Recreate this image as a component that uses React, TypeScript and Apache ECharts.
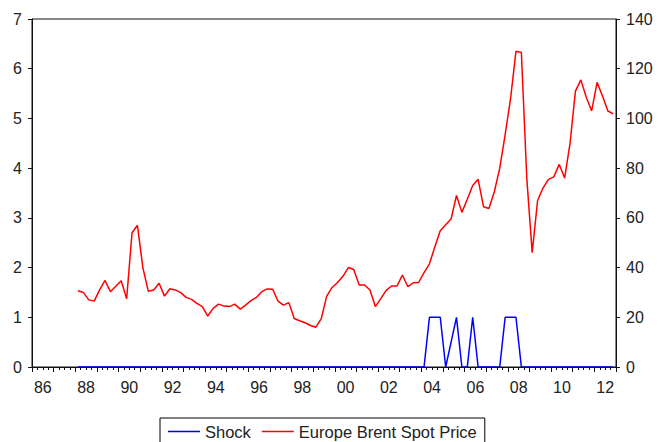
import React, { useEffect, useRef } from 'react';
import * as echarts from 'echarts';

// Quarterly data, 1988Q1 .. 2012Q4
const START_YEAR = 1988;
const AXIS_START_YEAR = 1986;
const AXIS_END_YEAR = 2013;

const brentPrice: number[] = [
  30.7, 30.0, 27.0, 26.5, // 1988
  31.0, 34.8, 30.3, 32.5, // 1989
  34.7, 27.4, 54.0, 57.0, // 1990
  40.0, 30.5, 31.0, 33.7, // 1991
  28.5, 31.5, 31.0, 29.9, // 1992
  28.0, 27.2, 25.6, 24.3, // 1993
  20.5, 23.6, 25.3, 24.5, // 1994
  24.3, 25.3, 23.3, 24.9, // 1995
  26.7, 28.0, 30.3, 31.4, // 1996
  31.3, 26.5, 24.9, 25.9, // 1997
  19.5, 18.6, 17.8, 16.7, // 1998
  16.0, 19.5, 28.5, 32.0, // 1999
  34.0, 36.5, 40.0, 39.2, // 2000
  33.0, 33.0, 31.0, 24.3, // 2001
  27.5, 30.8, 32.6, 32.6, // 2002
  37.0, 32.3, 33.9, 34.0, // 2003
  38.0, 41.5, 48.4, 54.8, // 2004
  57.2, 59.5, 69.0, 62.2, // 2005
  67.5, 73.0, 75.5, 64.5, // 2006
  63.8, 70.5, 80.0, 93.5, // 2007
  108.0, 127.0, 126.5, 76.0, // 2008
  46.0, 67.0, 72.0, 75.5, // 2009
  76.5, 81.5, 76.0, 90.0, // 2010
  111.0, 115.5, 108.5, 103.0, // 2011
  114.5, 109.0, 103.0, 101.8, // 2012
];

const shock: number[] = [
  0, 0, 0, 0, // 1988
  0, 0, 0, 0, // 1989
  0, 0, 0, 0, // 1990
  0, 0, 0, 0, // 1991
  0, 0, 0, 0, // 1992
  0, 0, 0, 0, // 1993
  0, 0, 0, 0, // 1994
  0, 0, 0, 0, // 1995
  0, 0, 0, 0, // 1996
  0, 0, 0, 0, // 1997
  0, 0, 0, 0, // 1998
  0, 0, 0, 0, // 1999
  0, 0, 0, 0, // 2000
  0, 0, 0, 0, // 2001
  0, 0, 0, 0, // 2002
  0, 0, 0, 0, // 2003
  0, 1, 1, 1, // 2004
  0, 0.5, 1, 0, // 2005
  0, 1, 0, 0, // 2006
  0, 0, 0, 1, // 2007
  1, 1, 0, 0, // 2008
  0, 0, 0, 0, // 2009
  0, 0, 0, 0, // 2010
  0, 0, 0, 0, // 2011
  0, 0, 0, 0, // 2012
];

const seriesNames = ['Shock', 'Europe Brent Spot Price'];

const quarterTime = (i: number) => START_YEAR + (i + 0.5) / 4;

const FONT = '"Liberation Sans", Arial, Helvetica, sans-serif';
const TEXT_COLOR = '#222';
const AXIS_COLOR = '#111';

export default function App() {
  const ref = useRef<HTMLDivElement>(null);

  useEffect(() => {
    if (!ref.current) return;
    const chart = echarts.init(ref.current, undefined, { renderer: 'svg' });

    const yAxisCommon = {
      type: 'value',
      axisLine: { show: true, onZero: false, lineStyle: { color: AXIS_COLOR, width: 1 } },
      axisTick: { show: true, length: 4, lineStyle: { color: AXIS_COLOR } },
      splitLine: { show: false },
      axisLabel: { margin: 10, color: TEXT_COLOR, fontSize: 16, fontFamily: FONT },
    };

    chart.setOption({
      animation: false,
      grid: {
        left: 32,
        right: 42,
        top: 19,
        bottom: 75,
        show: true,
        borderColor: AXIS_COLOR,
        borderWidth: 1,
        containLabel: false,
      },
      xAxis: {
        type: 'value',
        min: AXIS_START_YEAR,
        max: AXIS_END_YEAR,
        interval: 1,
        axisLine: { show: true, onZero: false, lineStyle: { color: AXIS_COLOR } },
        axisTick: { show: true, length: 5, lineStyle: { color: AXIS_COLOR } },
        minorTick: { show: true, splitNumber: 4, length: 3, lineStyle: { color: AXIS_COLOR } },
        splitLine: { show: false },
        minorSplitLine: { show: false },
        axisLabel: {
          margin: 12,
          color: TEXT_COLOR,
          fontSize: 16,
          fontFamily: FONT,
          formatter: (v: number) => {
            const y = Math.round(v);
            if (y % 2 !== 0 || y >= AXIS_END_YEAR) return '';
            return '{y|' + String(y).slice(2) + '}';
          },
          rich: {
            y: { padding: [0, 0, 0, 21.6], fontSize: 16, fontFamily: FONT, color: TEXT_COLOR },
          },
        },
      },
      yAxis: [
        { ...yAxisCommon, position: 'left', min: 0, max: 7, interval: 1 },
        { ...yAxisCommon, position: 'right', min: 0, max: 140, interval: 20 },
      ],
      legend: {
        data: seriesNames,
        left: 160,
        top: 418,
        icon: 'rect',
        itemWidth: 32,
        itemHeight: 1.5,
        itemGap: 11,
        padding: [5, 8, 5, 8],
        borderColor: '#000',
        borderWidth: 1,
        textStyle: { fontSize: 16.5, fontFamily: FONT, color: TEXT_COLOR },
      },
      series: [
        {
          name: seriesNames[0],
          type: 'line',
          yAxisIndex: 0,
          symbol: 'none',
          data: shock.map((v, i) => [quarterTime(i), v]),
          lineStyle: { color: '#0000FF', width: 1.5 },
          itemStyle: { color: '#0000FF' },
        },
        {
          name: seriesNames[1],
          type: 'line',
          yAxisIndex: 1,
          symbol: 'none',
          data: brentPrice.map((v, i) => [quarterTime(i), v]),
          lineStyle: { color: '#FF0000', width: 1.5 },
          itemStyle: { color: '#FF0000' },
        },
      ],
    });

    return () => chart.dispose();
  }, []);

  return (
    <div
      ref={ref}
      style={{ position: 'absolute', left: 0, top: 0, width: 658, height: 442, background: '#fff' }}
    />
  );
}
